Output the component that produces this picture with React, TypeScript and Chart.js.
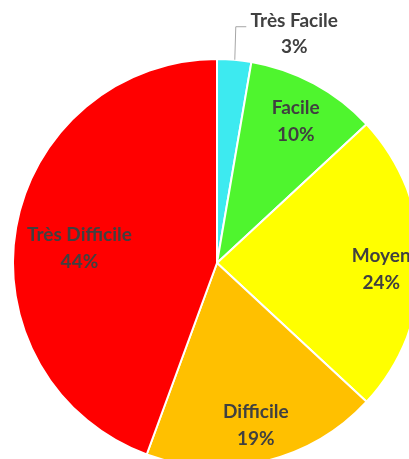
import React, { useEffect, useRef } from "react";
import { Chart, registerables } from "chart.js";

Chart.register(...registerables);

const categories = ["Très Facile", "Facile", "Moyen", "Difficile", "Très Difficile"];
const values = [2.7, 10.4, 23.8, 18.7, 44.4];
const percentLabels = ["3%", "10%", "24%", "19%", "44%"];
const colors = ["#3DEAF0", "#4FF52E", "#FFFF00", "#FFC000", "#FF0000"];

const FONT = "bold 19px Lato, 'Liberation Sans', Arial, sans-serif";
const TEXT_COLOR = "#404040";
const LINE_GAP = 27;
// label placement style: fraction of radius (null = outside with leader line) + nudge
const labelRadius = [null, 0.8, 0.8, 0.815, 0.685];
const labelNudge = [
  [0, 0],
  [1, 2],
  [1, 6],
  [0, 1],
  [0, 10],
];

const labelPlugin = {
  id: "pieLabels",
  afterDatasetsDraw(chart: any) {
    const ctx = chart.ctx;
    const meta = chart.getDatasetMeta(0);
    ctx.save();
    ctx.font = FONT;
    ctx.fillStyle = TEXT_COLOR;
    ctx.textAlign = "center";
    ctx.textBaseline = "middle";
    meta.data.forEach((arc: any, i: number) => {
      const { x, y, startAngle, endAngle, outerRadius } = arc.getProps(
        ["x", "y", "startAngle", "endAngle", "outerRadius"],
        true
      );
      const mid = (startAngle + endAngle) / 2;
      const f = labelRadius[i];
      if (f === null) {
        const ex = x + Math.cos(mid) * outerRadius;
        const ey = y + Math.sin(mid) * outerRadius;
        const ly = ey - 33;
        ctx.strokeStyle = "#A6A6A6";
        ctx.lineWidth = 1;
        ctx.beginPath();
        ctx.moveTo(ex + 0.5, ey);
        ctx.lineTo(ex + 1.5, ly);
        ctx.lineTo(ex + 12, ly);
        ctx.stroke();
        const tx = ex + 60;
        ctx.fillText(categories[i], tx, ly - 6);
        ctx.fillText(percentLabels[i], tx, ly - 6 + 26);
      } else {
        const cx = x + Math.cos(mid) * outerRadius * f + labelNudge[i][0];
        const cy = y + Math.sin(mid) * outerRadius * f + labelNudge[i][1];
        ctx.fillText(categories[i], cx, cy - LINE_GAP / 2);
        ctx.fillText(percentLabels[i], cx, cy + LINE_GAP / 2);
      }
    });
    ctx.restore();
  },
};

export default function App() {
  const ref = useRef<HTMLCanvasElement | null>(null);
  useEffect(() => {
    if (!ref.current) return;
    const chart = new Chart(ref.current, {
      type: "pie",
      data: {
        labels: categories,
        datasets: [
          {
            data: values,
            backgroundColor: colors,
            borderColor: "#FFFFFF",
            borderWidth: 2,
          },
        ],
      },
      options: {
        responsive: false,
        animation: false,
        devicePixelRatio: 1,
        layout: { padding: { left: 12, right: 0, top: 58, bottom: 2 } },
        plugins: {
          legend: { display: false },
          tooltip: { enabled: false },
        },
      },
      plugins: [labelPlugin],
    });
    return () => chart.destroy();
  }, []);
  return (
    <div
      style={{
        position: "fixed",
        left: 0,
        top: 0,
        width: 409,
        height: 459,
        overflow: "hidden",
        background: "#fff",
      }}
    >
      <canvas
        ref={ref}
        width={422}
        height={470}
        style={{ position: "absolute", left: 0, top: 0, width: 422, height: 470 }}
      />
    </div>
  );
}
